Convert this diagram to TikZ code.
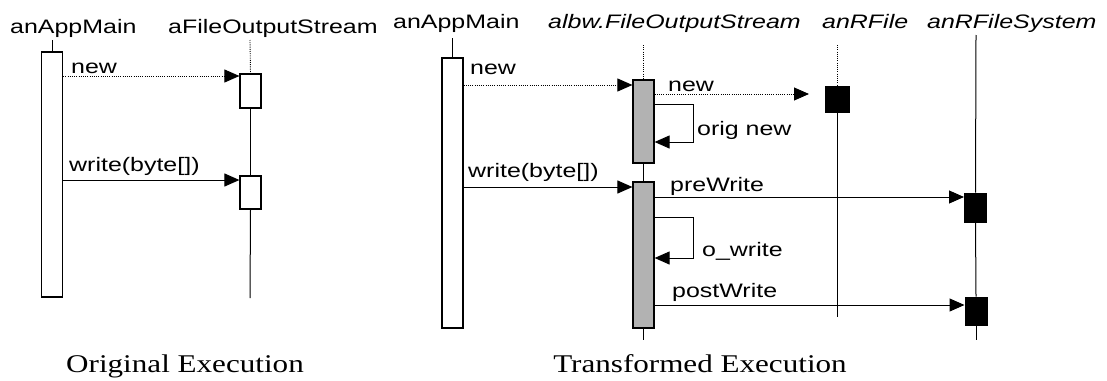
\documentclass[tikz,border=0pt]{standalone}
\usepackage{fontspec}
\usepackage{graphicx}
\newfontfamily\lblfont{Liberation Sans}
\newfontfamily\lblifont{Liberation Sans Italic}
\newfontfamily\capfont{Liberation Serif}
\newcommand\wsans[1]{\scalebox{1.28}[1]{#1}}
\newcommand\wserif[1]{\scalebox{1.22}[1]{#1}}
\usetikzlibrary{arrows.meta}
\begin{document}
\begin{tikzpicture}[x=1pt,y=-1pt,
  lbl/.style={inner sep=0pt,anchor=base west,font=\fontsize{19.5}{22}\selectfont\lblfont},
  ilbl/.style={inner sep=0pt,anchor=base west,font=\fontsize{19.5}{22}\selectfont\lblifont},
  captxt/.style={inner sep=0pt,anchor=base,font=\fontsize{25.5}{28}\selectfont\capfont},
  actbox/.style={draw,line width=1.2pt,fill=white,inner sep=0pt,minimum width=21pt},
  greybox/.style={draw,line width=1.2pt,fill=black!30,inner sep=0pt,minimum width=21pt},
  blackbox/.style={draw,line width=1pt,fill=black,inner sep=0pt},
  life/.style={line width=1pt},
  dotline/.style={line width=0.9pt,dash pattern=on 1pt off 1.2pt},
  msg/.style={line width=1pt,-{Triangle[length=15pt,width=13pt]}},
  dmsg/.style={line width=0.9pt,dash pattern=on 1pt off 1.2pt,-{Triangle[length=15pt,width=13pt]}}
]
\useasboundingbox (0,0) rectangle (1107,380);

% ---------- Original execution ----------
\node[lbl] (hL1) at (10,33) {\wsans{anAppMain}};
\node[lbl] (hL2) at (168,33) {\wsans{aFileOutputStream}};
\coordinate (tL1) at (52,40);
\coordinate (tL2) at (250,40);
\coordinate (eL2) at (250,298);

\node[actbox,minimum height=245pt] (A1) at (52,174.5) {};
\node[actbox,minimum height=34pt] (B1) at (250.5,91) {};
\node[actbox,minimum height=33pt] (B2) at (250.5,192.5) {};

\draw[life] (tL1) -- (A1.north);
\draw[dotline] (tL2) -- (B1.north);
\draw[life] (B1.south) -- (B2.north);
\draw[life] (B2.south) -- (eL2);

\draw[dmsg] (A1.east |- 0,76) -- (B1.west |- 0,76);
\node[lbl] (mL1) at (71,73) {\wsans{new}};
\draw[msg] (A1.east |- 0,180) -- (B2.west |- 0,180);
\node[lbl] (mL2) at (69,171) {\wsans{write(byte[])}};

\node[captxt] (capL) at (185,372) {\wserif{Original Execution}};

% ---------- Transformed execution ----------
\node[lbl] (hR1) at (393,28) {\wsans{anAppMain}};
\node[ilbl] (hR2) at (548,28) {\wsans{albw.FileOutputStream}};
\node[ilbl] (hR3) at (822,28) {\wsans{anRFile}};
\node[ilbl] (hR4) at (927,28) {\wsans{anRFileSystem}};

\coordinate (tR1) at (452.5,38);
\coordinate (tR2) at (643.5,45);
\coordinate (eR2) at (643.5,340);
\coordinate (tR3) at (837,45);
\coordinate (eR3) at (837,317);
\coordinate (tR4) at (976,35);
\coordinate (eR4) at (976,340);

\node[actbox,minimum height=270pt] (A2) at (452.5,193) {};
\node[greybox,minimum height=83pt] (G1) at (643.5,121.5) {};
\node[greybox,minimum height=146pt] (G2) at (643.5,255) {};
\node[blackbox,minimum width=24pt,minimum height=26pt] (R1) at (837,99) {};
\node[blackbox,minimum width=22pt,minimum height=29pt] (S1) at (975.5,207.5) {};
\node[blackbox,minimum width=22pt,minimum height=28pt] (S2) at (976,311) {};

\draw[life] (tR1) -- (A2.north);
\draw[dotline] (tR2) -- (G1.north);
\draw[life] (G1.south) -- (G2.north);
\draw[life] (G2.south) -- (eR2);
\draw[dotline] (tR3) -- (R1.north);
\draw[life] (R1.south) -- (eR3);
\draw[life] (tR4) -- (S1.north);
\draw[life] (S1.south) -- (S2.north);
\draw[life] (S2.south) -- (eR4);

% new (app -> stream)
\draw[dmsg] (A2.east |- 0,85) -- (G1.west |- 0,85);
\node[lbl] (mR1) at (470,74) {\wsans{new}};
% new (stream -> anRFile)
\coordinate (nTip) at (809,94);
\draw[dmsg] (G1.east |- 0,94) -- (nTip);
\node[lbl] (mR2) at (668,91) {\wsans{new}};
% orig new self call
\coordinate (on1) at (693,104);
\coordinate (on2) at (693,142);
\draw[msg] (G1.east |- on1) -- (on1) -- (on2) -- (G1.east |- on2);
\node[lbl] (mR3) at (697,135) {\wsans{orig new}};
% write(byte[])
\draw[msg] (A2.east |- 0,187) -- (G2.west |- 0,187);
\node[lbl] (mR4) at (468,177) {\wsans{write(byte[])}};
% preWrite
\draw[msg] (G2.east |- 0,197) -- (S1.west |- 0,197);
\node[lbl] (mR5) at (670,191) {\wsans{preWrite}};
% o_write self call
\coordinate (ow1) at (693,217);
\coordinate (ow2) at (693,258);
\draw[msg] (G2.east |- ow1) -- (ow1) -- (ow2) -- (G2.east |- ow2);
\node[lbl] (mR6) at (702,256) {\wsans{o\_write}};
% postWrite
\draw[msg] (G2.east |- 0,305) -- (S2.west |- 0,305);
\node[lbl] (mR7) at (672,297) {\wsans{postWrite}};

\node[captxt] (capR) at (700,372) {\wserif{Transformed Execution}};
\end{tikzpicture}
\end{document}
